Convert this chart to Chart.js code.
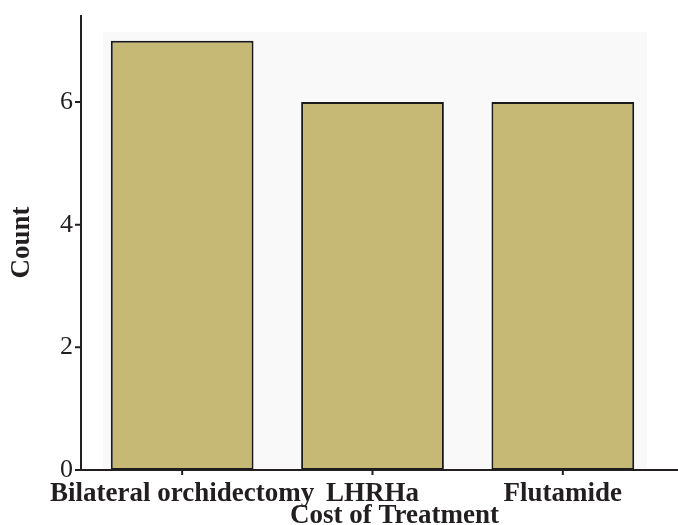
<!DOCTYPE html>
<html>
<head>
<meta charset="utf-8">
<script src="https://cdn.jsdelivr.net/npm/chart.js@4/dist/chart.umd.min.js"></script>
<style>
  html, body { margin: 0; padding: 0; background: #fff; }
  #wrap { width: 678px; height: 525px; }
</style>
</head>
<body>
<div id="wrap"><canvas id="myChart" width="678" height="525"></canvas></div>
<script>
// categories and counts
const categories = ["Bilateral orchidectomy", "LHRHa", "Flutamide"];
const counts = [7, 6, 6];
const yTicks = [0, 2, 4, 6];

const serif = "'Liberation Serif', 'Times New Roman', serif";
const axisColor = "#231f20";

// light plot background + hand drawn axis lines (SPSS look)
const spssFrame = {
  id: "spssFrame",
  beforeDatasetsDraw(chart) {
    const a = chart.chartArea;
    const ctx = chart.ctx;
    ctx.save();
    ctx.fillStyle = "#f9f9f9";
    ctx.fillRect(a.left + 16, a.top + 17, a.right - a.left - 27, a.bottom - a.top - 17);
    ctx.restore();
  },
  afterDatasetsDraw(chart) {
    const a = chart.chartArea;
    const ctx = chart.ctx;
    const x0 = a.left - 6;
    ctx.save();
    ctx.strokeStyle = axisColor;
    ctx.lineWidth = 2;
    ctx.beginPath();
    // y axis
    ctx.moveTo(x0, a.top);
    ctx.lineTo(x0, a.bottom);
    // x axis
    ctx.moveTo(x0, a.bottom);
    ctx.lineTo(chart.width, a.bottom);
    // y tick marks
    const ys = chart.scales.y;
    ys.ticks.forEach(t => {
      const py = ys.getPixelForValue(t.value);
      ctx.moveTo(x0 - 6, py);
      ctx.lineTo(x0, py);
    });
    // x tick marks
    const xs = chart.scales.x;
    categories.forEach((c, i) => {
      const px = xs.getPixelForValue(i);
      ctx.moveTo(px, a.bottom);
      ctx.lineTo(px, a.bottom + 5);
    });
    ctx.stroke();

    // x axis title
    ctx.fillStyle = "#231f20";
    ctx.font = "bold 27px " + serif;
    ctx.textAlign = "center";
    ctx.textBaseline = "alphabetic";
    ctx.fillText("Cost of Treatment", (a.left + a.right) / 2 + 22, chart.height - 2);
    ctx.restore();
  }
};

const data = {
  labels: categories,
  datasets: [
    {
      label: "Count",
      data: counts,
      backgroundColor: "#c5b975",
      borderColor: "#1a1a1a",
      borderWidth: 2,
      borderSkipped: false,
      barPercentage: 0.75,
      categoryPercentage: 1.0,
    },
  ],
};

const config = {
  type: "bar",
  data: data,
  plugins: [spssFrame],
  options: {
    responsive: false,
    animation: false,
    layout: { padding: { top: 15, right: 20, left: 0, bottom: 0 } },
    plugins: {
      legend: { display: false },
      tooltip: { enabled: false },
    },
    scales: {
      x: {
        grid: { display: false },
        border: { display: false },
        ticks: {
          color: "#231f20",
          font: { family: serif, size: 27, weight: "bold" },
          autoSkip: false,
          maxRotation: 0,
          minRotation: 0,
          padding: 0,
        },
        afterFit: s => { s.height = 55; s.paddingLeft = 0; s.paddingRight = 0; },
      },
      y: {
        min: 0,
        max: 7.42,
        grid: { display: false, drawTicks: false },
        border: { display: false },
        ticks: {
          stepSize: 2,
          includeBounds: false,
          color: "#231f20",
          font: { family: serif, size: 26 },
          padding: 14,
        },
        afterBuildTicks: s => { s.ticks = yTicks.map(v => ({ value: v })); },
        title: {
          display: true,
          text: "Count",
          color: "#231f20",
          font: { family: serif, size: 27, weight: "bold" },
          padding: { top: 6, bottom: 0 },
        },
        afterFit: s => { s.width = 87; s.paddingTop = 0; s.paddingBottom = 0; },
      },
    },
  },
};

let context = document.getElementById("myChart").getContext("2d");
let chart = new Chart(context, config);
</script>
</body>
</html>
